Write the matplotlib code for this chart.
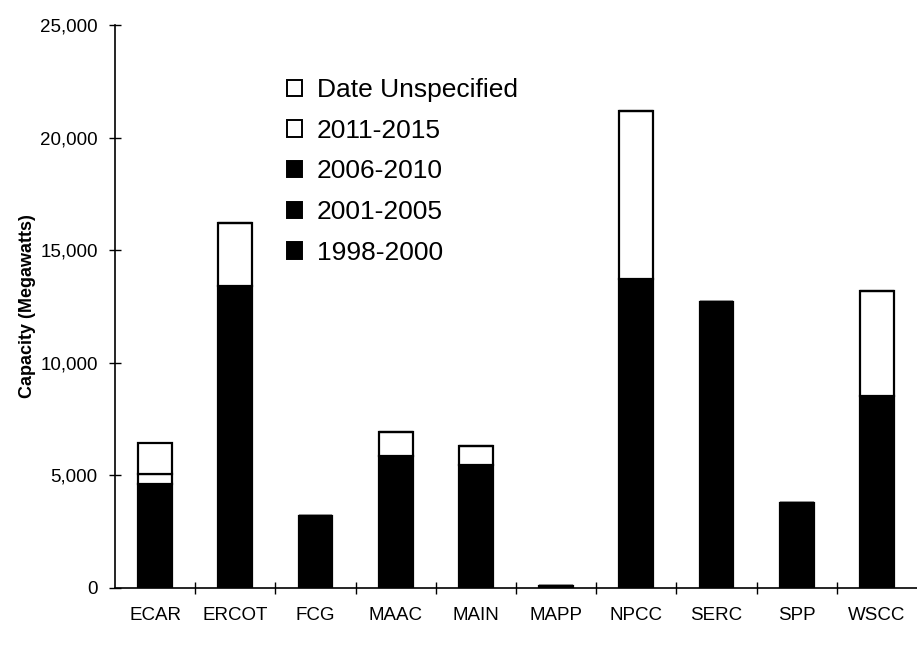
import numpy as np
import matplotlib
matplotlib.use('Agg')
import matplotlib.pyplot as plt
from matplotlib.patches import Patch
from matplotlib.ticker import FuncFormatter

regions = ['ECAR', 'ERCOT', 'FCG', 'MAAC', 'MAIN', 'MAPP', 'NPCC', 'SERC', 'SPP', 'WSCC']

# the three early periods are all drawn solid black, so they can't be told apart;
# the whole black height is kept in the first series
y1998_2000 = [4600, 13400, 3200, 5870, 5470, 100, 13720, 12720, 3780, 8530]
y2001_2005 = [0, 0, 0, 0, 0, 0, 0, 0, 0, 0]
y2006_2010 = [0, 0, 0, 0, 0, 0, 0, 0, 0, 0]
y2011_2015 = [470, 2800, 0, 1050, 840, 0, 7450, 0, 0, 4670]
date_unspec = [1360, 0, 0, 0, 0, 0, 0, 0, 0, 0]

series = [('1998-2000', y1998_2000, 'black'),
          ('2001-2005', y2001_2005, 'black'),
          ('2006-2010', y2006_2010, 'black'),
          ('2011-2015', y2011_2015, 'white'),
          ('Date Unspecified', date_unspec, 'white')]

plt.rcParams['font.family'] = ['Liberation Sans', 'DejaVu Sans']

fig = plt.figure(figsize=(9.17, 6.46), dpi=100)
ax = fig.add_axes([0.1254, 0.0898, 0.8746, 0.8714])

x = np.arange(len(regions))
bottom = np.zeros(len(regions))
handles = []
for name, vals, col in series:
    vals = np.array(vals, dtype=float)
    ax.bar(x, vals, 0.42, bottom=bottom, color=col, edgecolor='black', linewidth=1.6)
    bottom += vals
    handles.append(Patch(facecolor=col, edgecolor='black', linewidth=1.4, label=name))

ax.set_xlim(-0.5, 9.5)
ax.set_ylim(0, 25000)
ax.set_yticks(np.arange(0, 25001, 5000))
ax.yaxis.set_major_formatter(FuncFormatter(lambda v, p: '{:,.0f}'.format(v)))
ax.tick_params(axis='y', direction='inout', length=9, width=1, labelsize=13.5, pad=8)

ax.set_xticks(x[:-1] + 0.5)
ax.set_xticklabels([])
ax.set_xticks(x, minor=True)
ax.set_xticklabels(regions, minor=True)
ax.tick_params(axis='x', which='major', direction='inout', length=9, width=1)
ax.tick_params(axis='x', which='minor', length=0, labelsize=13.5, pad=14)

for s in ['top', 'right']:
    ax.spines[s].set_visible(False)
for s in ['left', 'bottom']:
    ax.spines[s].set_linewidth(1.2)

ax.set_ylabel('Capacity (Megawatts)', fontsize=13, fontweight='bold',
              family=['Liberation Sans Narrow', 'Liberation Sans', 'DejaVu Sans'])
ax.yaxis.set_label_coords(-0.099, 0.5)

leg = fig.legend(handles=handles[::-1], loc='upper left', bbox_to_anchor=(0.313, 0.879),
                 frameon=False, fontsize=19, handlelength=0.58, handleheight=0.58,
                 handletextpad=0.55, labelspacing=0.63, borderpad=0, borderaxespad=0)

plt.savefig('out.png', dpi=100)
